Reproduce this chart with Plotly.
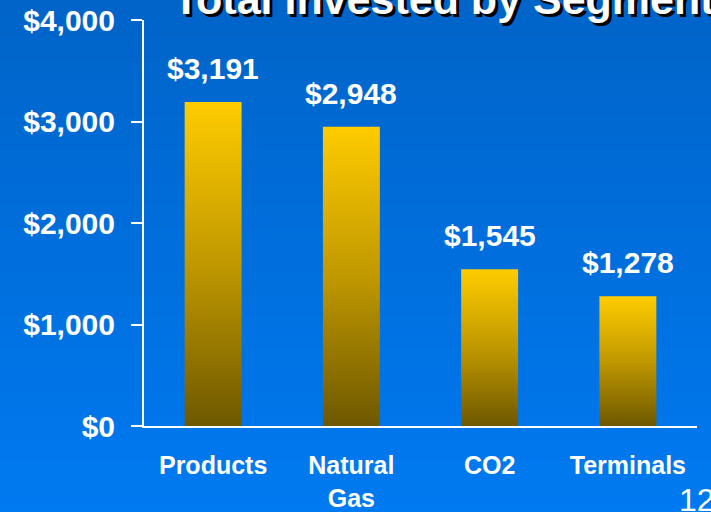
import plotly.graph_objects as go

# datos del gráfico
segments = ["Products", "Natural<br>Gas", "CO2", "Terminals"]
invested = [3191, 2948, 1545, 1278]
y_ticks = [0, 1000, 2000, 3000, 4000]
title_text = "Total Invested by Segment"
page_number = "12"

FONT = "Liberation Sans, Arial, sans-serif"
BAR_HALF = 0.206

fig = go.Figure()

# barras con degradado (dorado arriba, marrón abajo)
for i, v in enumerate(invested):
    fig.add_trace(go.Scatter(
        x=[i - BAR_HALF, i + BAR_HALF, i + BAR_HALF, i - BAR_HALF, i - BAR_HALF],
        y=[0, 0, v, v, 0],
        mode="lines",
        line=dict(width=0),
        fill="toself",
        fillgradient=dict(type="vertical",
                          colorscale=[[0, "#6e5800"], [0.5, "#c09800"], [1, "#ffcc00"]]),
        hoverinfo="skip",
        showlegend=False,
    ))

# etiquetas de valor
for i, v in enumerate(invested):
    fig.add_annotation(
        x=i, y=v, text=f"${v:,}", showarrow=False,
        yanchor="bottom", yshift=15,
        font=dict(family=FONT, size=30, color="white", weight="bold"),
    )

# fondo degradado azul
n_bands = 48
y0, y1 = -0.25, 1.07
for k in range(n_bands):
    t = k / (n_bands - 1)
    g = round(122 - (122 - 100) * t)
    b = round(242 - (242 - 200) * t)
    fig.add_shape(
        type="rect", xref="paper", yref="paper", layer="below",
        x0=-0.3, x1=1.1,
        y0=y0 + (y1 - y0) * k / n_bands - 0.002,
        y1=y0 + (y1 - y0) * (k + 1) / n_bands + 0.002,
        fillcolor=f"rgb(0,{g},{b})", line=dict(width=0),
    )

# título (recortado arriba) con sombra
for dx, dy, col in [(3, -3, "black"), (0, 0, "white")]:
    fig.add_annotation(
        x=0.055, y=1.0, xref="paper", yref="paper", xanchor="left", yanchor="bottom",
        xshift=dx - 3, yshift=dy - 5, text=title_text, showarrow=False,
        font=dict(family=FONT, size=43, color=col, weight="bold"),
    )

# número de página
fig.add_annotation(
    x=0.963, y=-0.182, xref="paper", yref="paper", xanchor="left", yanchor="middle",
    text=page_number, showarrow=False,
    font=dict(family=FONT, size=32, color="white"),
)

fig.update_xaxes(
    range=[-0.5, 3.5],
    tickvals=list(range(len(segments))),
    ticktext=segments,
    showline=True, linecolor="white", linewidth=2,
    showgrid=False, zeroline=False, ticks="",
    ticklabelstandoff=16, automargin=False,
    tickfont=dict(family=FONT, size=25, color="white", weight="bold"),
)
fig.update_yaxes(
    range=[0, 4000],
    tickvals=y_ticks,
    ticktext=[f"${v:,}" for v in y_ticks],
    showline=True, linecolor="white", linewidth=2,
    showgrid=False, zeroline=False,
    ticks="outside", ticklen=11, tickwidth=2, tickcolor="white",
    ticklabelstandoff=10, automargin=False,
    tickfont=dict(family=FONT, size=30, color="white", weight="bold"),
)

fig.update_layout(
    width=711, height=512,
    margin=dict(l=144, r=14, t=20, b=86),
    paper_bgcolor="#0070e0",
    plot_bgcolor="rgba(0,0,0,0)",
    showlegend=False,
)

fig.write_html("out.html", config={"displayModeBar": False},
               post_script="document.body.style.margin='0';")
